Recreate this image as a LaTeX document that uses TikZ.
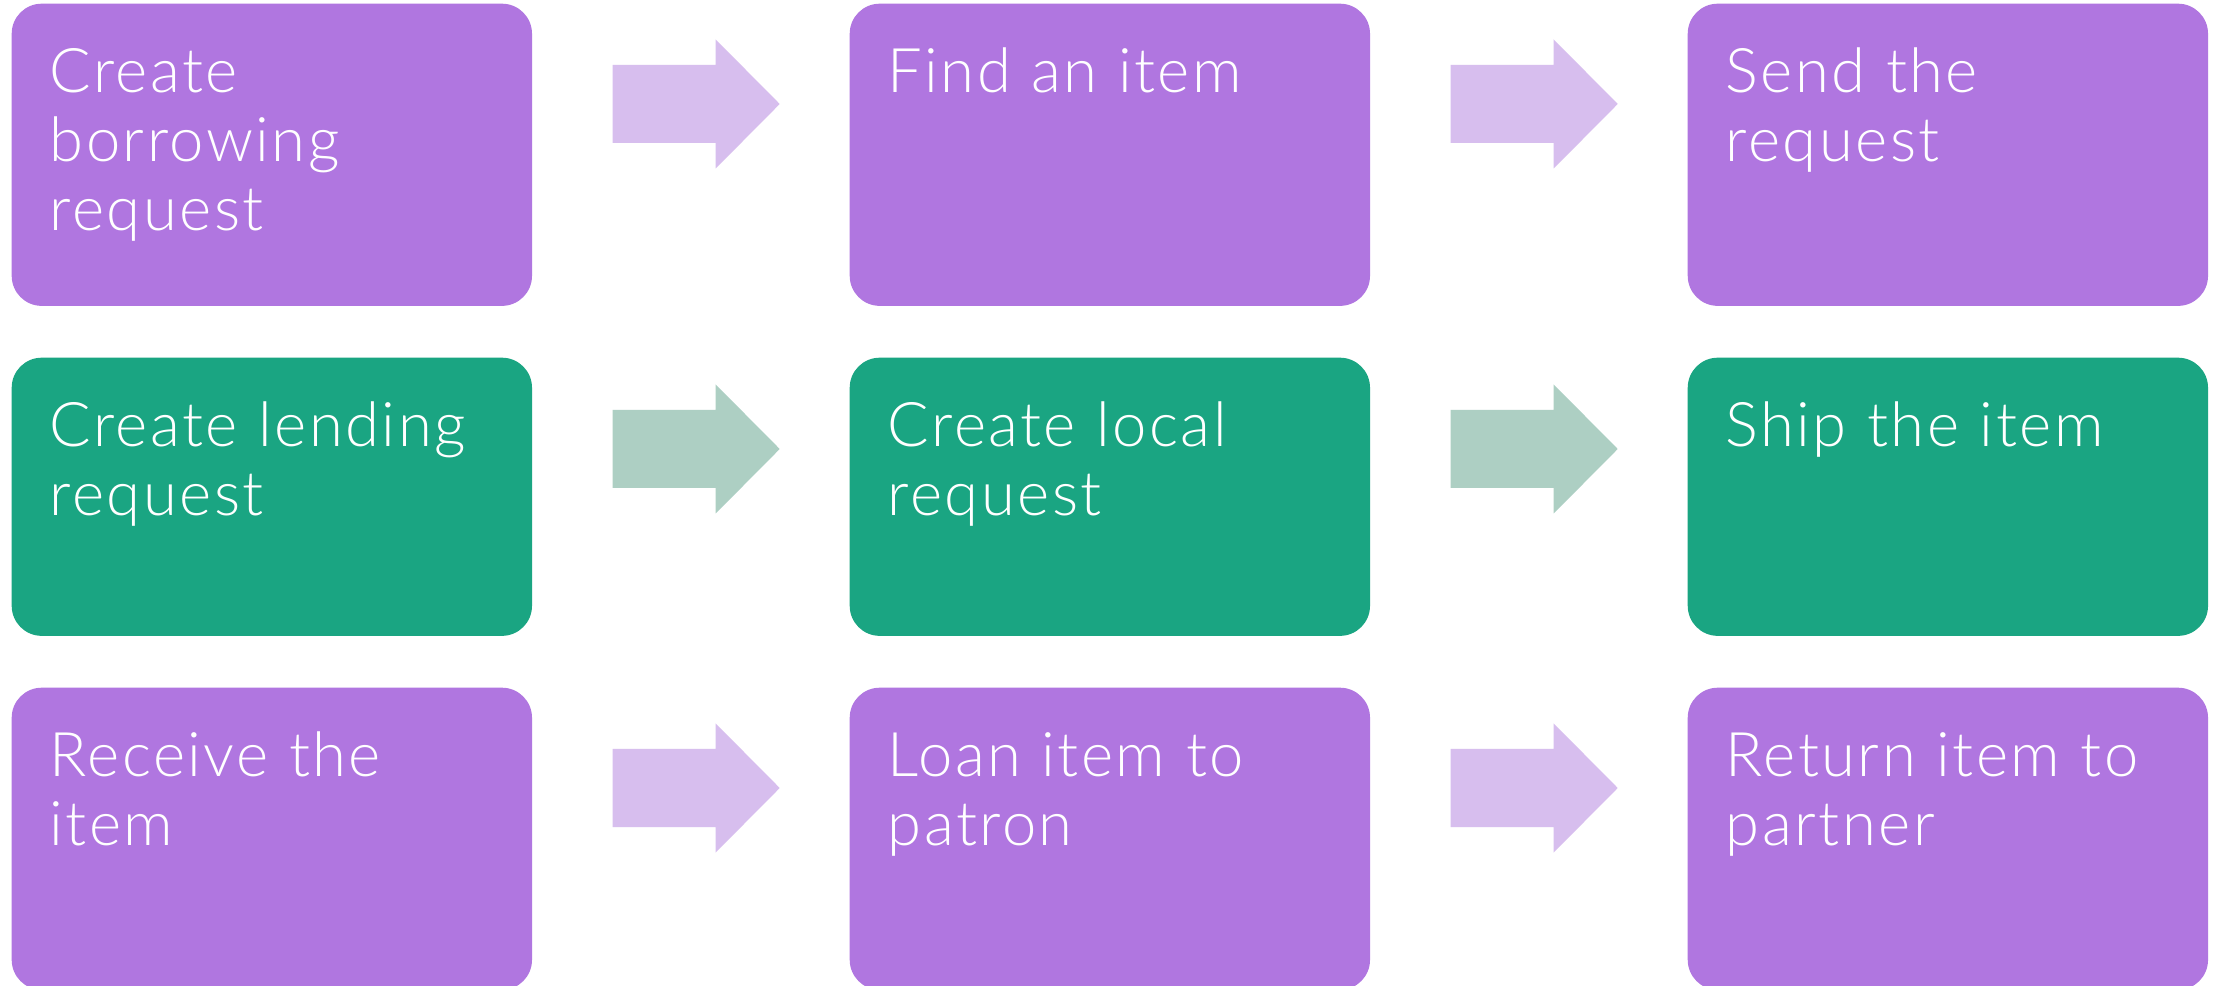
\documentclass[tikz,border=0pt]{standalone}
\usepackage{fontspec}
\setmainfont{Lato}[UprightFont={* Light}, LetterSpace=4]
\usetikzlibrary{calc}

\definecolor{boxpurple}{HTML}{B076E0}
\definecolor{arrowpurple}{HTML}{D7BEEE}
\definecolor{boxgreen}{HTML}{1AA582}
\definecolor{arrowgreen}{HTML}{ADCFC3}

\tikzset{
	stepbox/.style={fill=#1, rounded corners=0.3cm, minimum width=5.2cm, minimum height=3.02cm, inner sep=0, anchor=north west},
	steptext/.style={text=white, text width=4.6cm, align=left, inner sep=0, anchor=base west, font=\fontsize{17.5}{19.6}\selectfont}
}
\def\flowarrow[#1]#2#3{\fill[#1] ($(#2)+(#3)+(0,-39)$) -- ++(103,0) -- ++(0,-25.5) -- ++(64,64.5) -- ++(-64,64.5) -- ++(0,-25.5) -- ++(-103,0) -- cycle;}

\begin{document}
\begin{tikzpicture}[x=0.01cm, y=-0.01cm]
		%%%%% START %%%%%
		\useasboundingbox[fill=white] (0,0) rectangle (2216,986);
		
		% borrowing side
		\node[stepbox=boxpurple] (borrow) at (11,3) {};
		\node[stepbox=boxpurple] (find) at (849,3) {};
		\node[stepbox=boxpurple] (send) at (1687,3) {};
		\node[steptext] at ($(borrow.north west)+(38,90)$) {Create\\borrowing\\request};
		\node[steptext] at ($(find.north west)+(38,90)$) {Find an item};
		\node[steptext] at ($(send.north west)+(38,90)$) {Send the\\request};
		
		\flowarrow[arrowpurple]{borrow.north east}{80,101}
		\flowarrow[arrowpurple]{find.north east}{80,101}
		
		% lending side
		\node[stepbox=boxgreen, minimum height=2.78cm] (lend) at (11,357) {};
		\node[stepbox=boxgreen, minimum height=2.78cm] (local) at (849,357) {};
		\node[stepbox=boxgreen, minimum height=2.78cm] (ship) at (1687,357) {};
		\node[steptext] at ($(lend.north west)+(38,90)$) {Create lending\\request};
		\node[steptext] at ($(local.north west)+(38,90)$) {Create local\\request};
		\node[steptext] at ($(ship.north west)+(38,90)$) {Ship the item};
		
		\flowarrow[arrowgreen]{lend.north east}{80,92}
		\flowarrow[arrowgreen]{local.north east}{80,92}
		
		% back at the borrower
		\node[stepbox=boxpurple] (receive) at (11,687) {};
		\node[stepbox=boxpurple] (loan) at (849,687) {};
		\node[stepbox=boxpurple] (return) at (1687,687) {};
		\node[steptext] at ($(receive.north west)+(38,90)$) {Receive the\\item};
		\node[steptext] at ($(loan.north west)+(38,90)$) {Loan item to\\patron};
		\node[steptext] at ($(return.north west)+(38,90)$) {Return item to\\partner};
		
		\flowarrow[arrowpurple]{receive.north east}{80,101}
		\flowarrow[arrowpurple]{loan.north east}{80,101}
		%%%%% END %%%%%
\end{tikzpicture}
\end{document}
